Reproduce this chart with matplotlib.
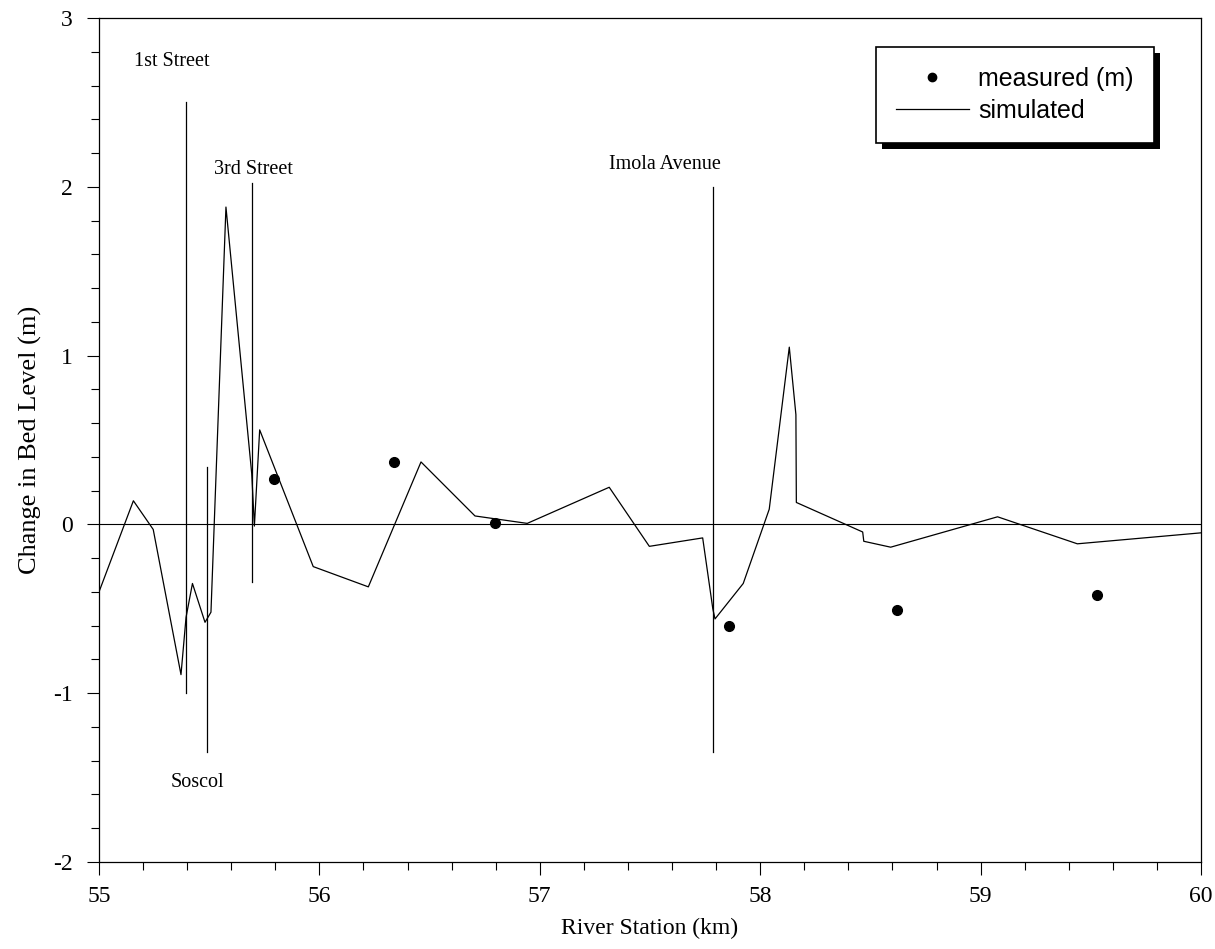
import matplotlib
matplotlib.use("Agg")
import matplotlib.pyplot as plt
import matplotlib.ticker as mticker
from matplotlib.patches import Rectangle
from matplotlib.lines import Line2D

plt.rcParams["axes.unicode_minus"] = False

# simulated bed change along the reach
sim_km = [55.0, 55.156, 55.246, 55.372, 55.395, 55.424, 55.481, 55.508, 55.576, 55.693,
          55.705, 55.729, 55.972, 56.222, 56.461, 56.706, 56.943, 57.315, 57.497, 57.739,
          57.785, 57.795, 57.923, 58.041, 58.132, 58.162, 58.164, 58.465, 58.470, 58.592,
          59.077, 59.439, 60.0]
sim_dz = [-0.40, 0.14, -0.03, -0.89, -0.55, -0.35, -0.58, -0.52, 1.88, 0.30,
          -0.01, 0.56, -0.25, -0.37, 0.37, 0.05, 0.006, 0.22, -0.13, -0.08,
          -0.50, -0.56, -0.35, 0.09, 1.05, 0.65, 0.13, -0.045, -0.10, -0.135,
          0.045, -0.115, -0.05]

# measured values
meas_km = [55.794, 56.338, 56.797, 57.86, 58.62, 59.528]
meas_dz = [0.27, 0.37, 0.01, -0.60, -0.51, -0.42]

# bridges: name, station, bottom, top, label position
bridges = ["1st Street", "Soscol", "3rd Street", "Imola Avenue"]
bridge_km = [55.395, 55.49, 55.693, 57.787]
bridge_lo = [-1.0, -1.35, -0.34, -1.35]
bridge_hi = [2.5, 0.34, 2.02, 2.0]
label_km = [55.33, 55.445, 55.70, 57.57]
label_dz = [2.74, -1.53, 2.10, 2.13]

serif = ["Liberation Serif", "DejaVu Serif"]
sans = ["Liberation Sans", "DejaVu Sans"]

fig = plt.figure(figsize=(12.15, 9.49), dpi=100)
ax = fig.add_axes([99 / 1215, 1 - 862 / 949, 1102 / 1215, 844 / 949])

ax.axhline(0, color="black", lw=0.8)
ax.plot(sim_km, sim_dz, color="black", lw=0.9)
ax.plot(meas_km, meas_dz, "o", color="black", ms=7)

for name, km, lo, hi, lx, ly in zip(bridges, bridge_km, bridge_lo, bridge_hi, label_km, label_dz):
    ax.plot([km, km], [lo, hi], color="black", lw=0.9)
    ax.text(lx, ly, name, ha="center", va="center", fontsize=14.5, family=serif)

ax.set_xlim(55, 60)
ax.set_ylim(-2, 3)
ax.xaxis.set_major_locator(mticker.MultipleLocator(1))
ax.xaxis.set_minor_locator(mticker.MultipleLocator(0.2))
ax.yaxis.set_major_locator(mticker.MultipleLocator(1))
ax.yaxis.set_minor_locator(mticker.MultipleLocator(0.2))
ax.tick_params(which="major", length=9, width=0.8, direction="out")
ax.tick_params(which="minor", length=6, width=0.8, direction="out")
ax.tick_params(axis="x", pad=8)
ax.tick_params(axis="y", pad=10)
for lab in ax.get_xticklabels() + ax.get_yticklabels():
    lab.set_family(serif)
    lab.set_fontsize(17)
for sp in ax.spines.values():
    sp.set_linewidth(0.9)

ax.set_xlabel("River Station (km)", fontsize=17, family=serif, labelpad=8)
ax.set_ylabel("Change in Bed Level (m)", fontsize=19, family=serif, labelpad=8)

# legend box with a hard black drop shadow
handles = [Line2D([], [], marker="o", ls="none", color="black", ms=6),
           Line2D([], [], color="black", lw=0.9)]
leg = ax.legend(handles, ["measured (m)", "simulated"], loc="upper right",
                bbox_to_anchor=(1055 / 1102, 1 - 29 / 844), fancybox=False,
                frameon=True, edgecolor="black", framealpha=1,
                prop={"family": sans, "size": 18}, handlelength=2.9,
                borderpad=0.8, labelspacing=0.3, handletextpad=0.4, borderaxespad=0)
leg.get_frame().set_linewidth(1.2)
leg.set_zorder(5)

fig.canvas.draw()
bb = leg.get_window_extent().transformed(fig.transFigure.inverted())
off_x, off_y = 6 / 1215, 6 / 949
shadow = Rectangle((bb.x0 + off_x, bb.y0 - off_y), bb.width, bb.height,
                   transform=fig.transFigure, facecolor="black", edgecolor="none", zorder=4)
ax.add_artist(shadow)

fig.savefig("out.png", dpi=100)
